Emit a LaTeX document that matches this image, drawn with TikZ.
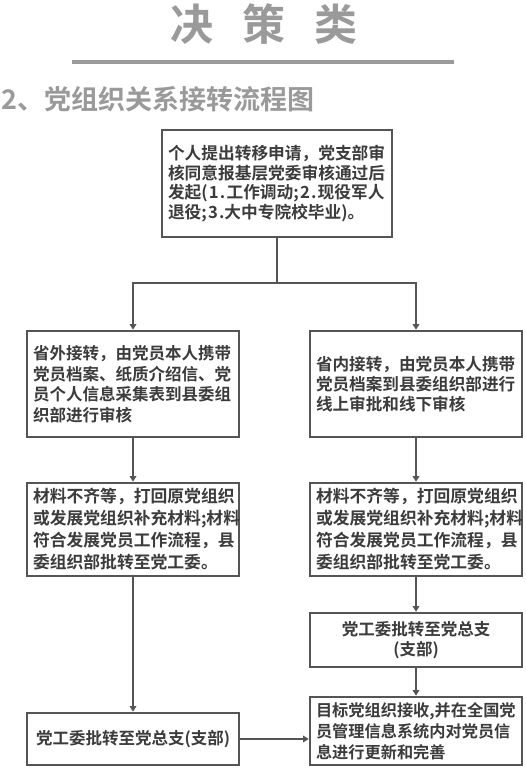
\documentclass[tikz,border=0pt]{standalone}
\usepackage{fontspec}
\newfontfamily\cjk{Noto Sans CJK SC}[BoldFont={Noto Sans CJK SC Bold}]
\usetikzlibrary{arrows.meta}
\definecolor{ln}{HTML}{555555}
\definecolor{tx}{HTML}{3C3C3C}
\definecolor{ttl}{HTML}{9A9A9A}
\tikzset{
  box/.style={draw=ln, line width=2.6pt, fill=white, minimum width=212pt,
    inner sep=0pt, text=tx, align=left, text width=200pt},
  conn/.style={draw=ln, line width=2.6pt},
  arr/.style={conn, -{Triangle[length=5.5pt,width=6.5pt]}},
}
\newcommand{\gp}{\kern1.2pt\relax}
\begin{document}
\begin{tikzpicture}[x=1pt,y=-1pt]
\useasboundingbox[fill=white] (0,0) rectangle (526,768);
% title
\node[text=ttl, font=\cjk\bfseries\fontsize{43}{43}\selectfont, inner sep=0pt] (title) at (264,24)
  {决\hspace{29pt}策\hspace{29pt}类};
\fill[ttl] (72,60) rectangle (454,64);
\node[text=ttl, font=\cjk\bfseries\fontsize{27}{27}\selectfont, inner sep=0pt, anchor=west] (sub) at (1,99)
  {2、党组织关系接转流程图};
% boxes
\node[box, minimum width=230pt, text width=218pt, minimum height=107pt,
  font=\cjk\bfseries\fontsize{16.7}{19.5}\selectfont] (b1) at (277,183.5)
  {个人提出转移申请，党支部审\\核同意报基层党委审核通过后\\发起(\gp{}1\gp{}.\gp{}工作调动;\gp{}2\gp{}.\gp{}现役军人\\退役;\gp{}3\gp{}.大中专院校毕业)。};
\node[box, minimum height=106pt, font=\cjk\bfseries\fontsize{16.5}{20.5}\selectfont] (l2) at (133,384)
  {省外接转，由党员本人携带\\党员档案、纸质介绍信、党\\员个人信息采集表到县委组\\织部进行审核};
\node[box, minimum height=106pt, font=\cjk\bfseries\fontsize{16.6}{20}\selectfont] (r2) at (416,384)
  {省内接转，由党员本人携带\\党员档案到县委组织部进行\\线上审批和线下审核};
\node[box, minimum height=93pt, font=\cjk\bfseries\fontsize{16.8}{22}\selectfont] (l3) at (133,529.5)
  {材料不齐等，打回原党组织\\或发展党组织补充材料;材料\\符合发展党员工作流程，县\\委组织部批转至党工委。};
\node[box, minimum height=93pt, font=\cjk\bfseries\fontsize{16.8}{22}\selectfont] (r3) at (416,529.5)
  {材料不齐等，打回原党组织\\或发展党组织补充材料;材料\\符合发展党员工作流程，县\\委组织部批转至党工委。};
\node[box, minimum height=54pt, align=center, font=\cjk\bfseries\fontsize{16.5}{20}\selectfont] (r4) at (416,640)
  {党工委批转至党总支\\(支部)};
\node[box, minimum height=68pt, font=\cjk\bfseries\fontsize{16.2}{21}\selectfont] (r5) at (416,731)
  {目标党组织接收,并在全国党\\员管理信息系统内对党员信\\息进行更新和完善};
\node[box, minimum height=52pt, align=center, font=\cjk\bfseries\fontsize{16.5}{20}\selectfont] (l5) at (133,739)
  {党工委批转至党总支(支部)};
% connectors
\coordinate (j) at (277,283);
\draw[conn] (b1.south -| j) -- (j);
\draw[arr] (j) -| (l2.north);
\draw[arr] (j) -| (r2.north);
\draw[arr] (l2) -- (l3);
\draw[arr] (r2) -- (r3);
\draw[arr] (l3) -- (l5);
\draw[arr] (r3) -- (r4);
\draw[arr] (r4) -- (r5);
\draw[arr] (l5.east) -- (l5.east -| r5.west);
\end{tikzpicture}
\end{document}
